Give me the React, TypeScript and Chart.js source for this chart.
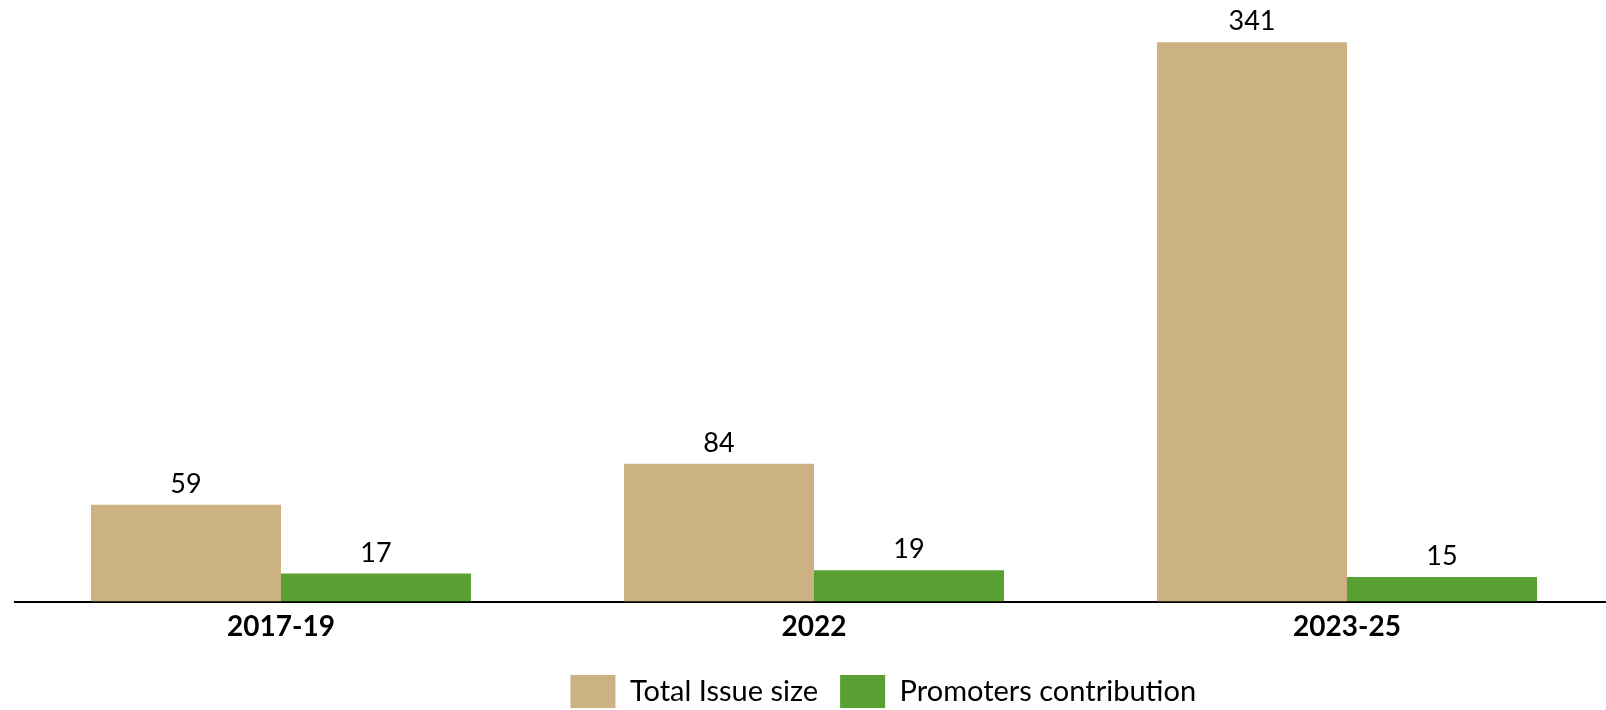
import React, { useEffect, useRef } from "react";
import { Chart, registerables } from "chart.js";

Chart.register(...registerables);

const categories = ["2017-19", "2022", "2023-25"];
const totalIssueSize = [59, 84, 341];
const promotersContribution = [17, 19, 15];
const seriesNames = ["Total Issue size", "Promoters contribution"];

const FONT = "Lato, 'Liberation Sans', sans-serif";

const valueLabels = {
  id: "valueLabels",
  afterDatasetsDraw(chart: any) {
    const ctx = chart.ctx;
    ctx.save();
    ctx.font = `27px ${FONT}`;
    ctx.fillStyle = "#000";
    ctx.textAlign = "center";
    ctx.textBaseline = "alphabetic";
    chart.data.datasets.forEach((ds: any, di: number) => {
      const meta = chart.getDatasetMeta(di);
      meta.data.forEach((bar: any, i: number) => {
        ctx.fillText(String(ds.data[i]), bar.x, bar.y - 12);
      });
    });
    ctx.restore();
  },
};

export default function App() {
  const ref = useRef<HTMLCanvasElement>(null);
  useEffect(() => {
    if (!ref.current) return;
    const chart = new Chart(ref.current, {
      type: "bar",
      data: {
        labels: categories,
        datasets: [
          {
            label: seriesNames[0],
            data: totalIssueSize,
            backgroundColor: "#CCB183",
            categoryPercentage: 0.713,
            barPercentage: 1,
          },
          {
            label: seriesNames[1],
            data: promotersContribution,
            backgroundColor: "#59A032",
            categoryPercentage: 0.713,
            barPercentage: 1,
          },
        ],
      },
      options: {
        responsive: false,
        animation: false,
        layout: { padding: { left: 14.5, right: 0, top: 11, bottom: 0 } },
        plugins: {
          legend: {
            position: "bottom",
            labels: {
              boxWidth: 45,
              boxHeight: 33,
              padding: 22,
              color: "#000",
              font: { family: FONT, size: 29 },
            },
          },
          tooltip: { enabled: false },
        },
        scales: {
          x: {
            grid: { display: false, drawTicks: false },
            border: { display: true, color: "#000", width: 2 },
            ticks: {
              color: "#000",
              padding: 9,
              font: { family: FONT, size: 28, weight: "bold" },
            },
            afterFit(scale: any) {
              scale.height = 51.5;
            },
          },
          y: {
            display: false,
            min: 0,
            max: 360,
          },
          yRight: {
            position: "right",
            display: true,
            grid: { display: false },
            border: { display: false },
            ticks: { display: false },
            afterFit(scale: any) {
              scale.width = 138.5;
            },
          },
        },
      },
      plugins: [valueLabels],
    });
    return () => chart.destroy();
  }, []);
  return (
    <div
      style={{
        position: "absolute",
        left: 0,
        top: 0,
        width: 1606,
        height: 710,
        overflow: "hidden",
        background: "#fff",
      }}
    >
      <canvas ref={ref} width={1752} height={718} style={{ display: "block" }} />
    </div>
  );
}
